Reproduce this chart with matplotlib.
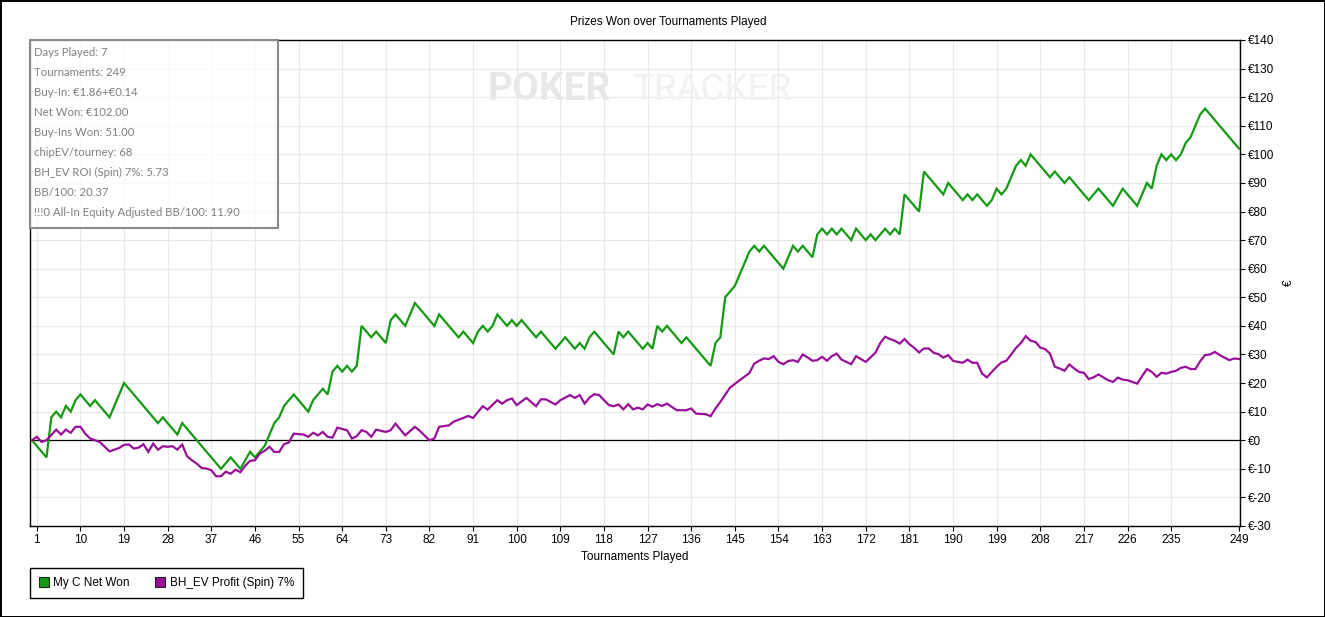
import matplotlib.pyplot as plt
from matplotlib.lines import Line2D
from matplotlib.patches import Rectangle
from matplotlib.ticker import FuncFormatter
import numpy as np

# turning points of "My C Net Won" (tournament, euro)
net_won_x = [0, 3, 4, 5, 6, 7, 8, 9, 10, 12, 13, 16, 19, 26, 27, 30, 31, 39, 41, 43, 45, 46, 48, 50,
             51, 52, 54, 57, 58, 60, 61, 62, 63, 64, 65, 66, 67, 68, 70, 71, 73, 74, 75, 77, 79, 83,
             84, 88, 89, 91, 92, 93, 94, 95, 96, 98, 99, 100, 101, 104, 105, 108, 110, 112, 113, 114,
             115, 116, 120, 121, 122, 123, 126, 127, 128, 129, 130, 131, 134, 135, 140, 141, 142, 143,
             145, 148, 149, 150, 151, 155, 157, 158, 159, 161, 162, 163, 164, 165, 166, 167, 169, 170,
             172, 173, 174, 176, 177, 178, 179, 180, 183, 184, 188, 189, 192, 193, 194, 195, 197, 198,
             199, 200, 201, 203, 204, 205, 206, 210, 211, 213, 214, 218, 220, 223, 225, 228, 230, 231,
             232, 233, 234, 235, 236, 237, 238, 239, 241, 242, 249]
net_won_y = [0, -6, 8, 10, 8, 12, 10, 14, 16, 12, 14, 8, 20, 6, 8, 2, 6, -10, -6, -10, -4, -6, -2, 6,
             8, 12, 16, 10, 14, 18, 16, 24, 26, 24, 26, 24, 26, 40, 36, 38, 34, 42, 44, 40, 48, 40,
             44, 36, 38, 34, 38, 40, 38, 40, 44, 40, 42, 40, 42, 36, 38, 32, 36, 32, 34, 32,
             36, 38, 30, 38, 36, 38, 32, 34, 32, 40, 38, 40, 34, 36, 26, 34, 36, 50,
             54, 66, 68, 66, 68, 60, 68, 66, 68, 64, 72, 74, 72, 74, 72, 74, 70, 74,
             70, 72, 70, 74, 72, 74, 72, 86, 80, 94, 86, 90, 84, 86, 84, 86, 82, 84,
             88, 86, 88, 96, 98, 96, 100, 92, 94, 90, 92, 84, 88, 82, 88, 82, 90, 88,
             96, 100, 98, 100, 98, 100, 104, 106, 114, 116, 102]

# "BH_EV Profit (Spin) 7%"
ev_x = [0, 1, 2, 3, 5, 6, 7, 8, 9, 10, 11, 12, 14, 16, 18, 19, 20, 21, 22, 23, 24, 25, 26, 27, 28,
        29, 30, 31, 32, 33, 34, 35, 36, 37, 38, 39, 40, 41, 42, 43, 44, 45, 46, 47, 48, 49, 50, 51,
        52, 53, 54, 56, 57, 58, 59, 60, 61, 62, 63, 65, 66, 67, 68, 69, 70, 71, 73, 74, 75, 77, 79,
        80, 82, 83, 84, 86, 87, 89, 90, 91, 93, 94, 96, 97, 98, 99, 100, 102, 104, 105, 106, 108,
        109, 111, 112, 113, 114, 115, 116, 117, 119, 120, 121, 122, 123, 124, 125, 126, 127, 128,
        129, 130, 131, 133, 135, 136, 137, 139, 140, 141, 142, 144, 146, 148, 149, 150, 151, 152,
        153, 154, 155, 156, 157, 158, 159, 160, 161, 162, 163, 164, 165, 166, 167, 168, 169, 170,
        171, 172, 173, 174, 175, 176, 177, 178, 179, 180, 181, 182, 183, 184, 185, 186, 187, 188,
        189, 190, 191, 192, 193, 194, 195, 196, 197, 198, 199, 200, 201, 202, 203, 204, 205, 206,
        207, 208, 209, 210, 211, 212, 213, 214, 215, 216, 217, 218, 219, 220, 221, 222, 223, 224,
        225, 226, 227, 228, 229, 230, 231, 232, 233, 234, 235, 236, 237, 238, 239, 240, 241, 242,
        243, 244, 245, 246, 247, 248, 249]
ev_y = [0, 1.2, -0.6, 0, 3.7, 2, 3.7, 2.6, 4.7, 4.7, 2.3, 0.6, -0.6, -3.9, -2.7, -1.6, -1.5, -2.9,
        -2.6, -1.4, -4.1, -1.2, -3.3, -2.1, -2.3, -2.1, -3.3, -1.5, -5.6, -7, -8.2, -9.7, -9.9, -10.5,
        -12.6, -12.6, -11, -11.7, -10.3, -11.2, -8.9, -7.2, -7, -4.7, -3.7, -2.3, -4.1, -4.1, -1.4,
        -0.8, 2.3, 2, 1.2, 2.6, 1.7, 2.9, 1.2, 0.9, 4.4, 3.5, 0.6, 1.4, 3.5, 2.9, 1.2, 3.7, 2.9, 3.5,
        5.8, 1.7, 4.7, 3.3, 0, 0.6, 4.7, 5.2, 6.5, 7.8, 8.5, 7.8, 11.9, 10.7, 14, 12.8, 14, 14.6, 12.3,
        14.8, 11.9, 14.3, 14.3, 12.5, 14, 15.8, 14.8, 15.8, 12.8, 14.9, 16.1, 15.8, 12.3, 11.9, 12.5,
        10.8, 12.6, 10.8, 11.4, 10.8, 12.5, 11.7, 12.6, 12, 12.8, 10.5, 10.5, 11.1, 9.3, 9.1, 8.4,
        11.1, 13.4, 18.4, 21, 23.5, 26.8, 27.8, 28.6, 28.4, 29.4, 27.4, 26.6, 27.7, 28, 27.4, 30, 29,
        27.8, 28, 29.2, 27.8, 29.4, 30.3, 28.2, 27.4, 26.6, 29.4, 28.4, 27.4, 29, 30.6, 34, 36.2, 35.4,
        34.8, 33.8, 35.4, 33.6, 32.3, 30.7, 32.1, 32.1, 30.6, 30.1, 28.9, 29.8, 27.8, 27.4, 27.1, 28.2,
        27.1, 27.1, 23.3, 22, 23.9, 25.7, 27.2, 27.8, 30, 32.3, 34, 36.4, 34.8, 34.4, 32.4, 31.9, 30.3,
        25.7, 25.1, 24.3, 26.5, 25.1, 23.9, 23.6, 21.4, 22, 23, 22, 21, 20.4, 21.9, 21.2, 21, 20.4,
        19.8, 22.4, 24.9, 23.9, 22.2, 23.6, 23.3, 23.9, 24.3, 25.3, 25.7, 24.9, 24.9, 27.7, 29.8, 30,
        30.9, 29.8, 28.9, 28, 28.6, 28.4]

x_ticks = list(range(1, 236, 9)) + [249]
y_ticks = list(range(-30, 141, 10))

stats = ["Days Played: 7", "Tournaments: 249", "Buy-In: €1.86+€0.14", "Net Won: €102.00",
         "Buy-Ins Won: 51.00", "chipEV/tourney: 68", "BH_EV ROI (Spin) 7%: 5.73", "BB/100: 20.37",
         "!!!0 All-In Equity Adjusted BB/100: 11.90"]

GREEN = '#139a13'
PURPLE = '#990f99'
W, H = 1325, 617
plt.rcParams['font.family'] = ['Liberation Sans', 'DejaVu Sans']

fig = plt.figure(figsize=(W / 100, H / 100), dpi=100, edgecolor='black', linewidth=2)
ax = fig.add_axes([30 / W, 1 - 526 / H, 1210 / W, 486 / H])

ax.plot(net_won_x, net_won_y, color=GREEN, lw=1.6, zorder=3, solid_joinstyle='miter')
ax.plot(ev_x, ev_y, color=PURPLE, lw=1.6, zorder=3, solid_joinstyle='miter')
ax.axhline(0, color='black', lw=0.9, zorder=2)

ax.set_xlim(-0.4, 249.2)
ax.set_ylim(-30, 140)
ax.set_xticks(x_ticks)
ax.set_yticks(y_ticks)
ax.yaxis.tick_right()
ax.yaxis.set_major_formatter(FuncFormatter(lambda v, p: f"€{int(v)}"))
ax.tick_params(axis='x', length=3.5, width=0.8, labelsize=8.5, pad=2)
ax.tick_params(axis='y', length=3.5, width=0.8, labelsize=8.5, pad=2)
ax.grid(True, color='#e8e8e8', lw=0.8, zorder=0)
for s in ax.spines.values():
    s.set_linewidth(1)
    s.set_color('black')

ax.set_xlabel('Tournaments Played', fontsize=8.5)
ax.xaxis.set_label_coords(0.5, -(557 - 526) / 486)
ax.xaxis.label.set_va('center')
ax.yaxis.set_label_position('right')
ax.set_ylabel('€', fontsize=8.5, rotation=90)
ax.yaxis.set_label_coords((1289 - 30) / 1210, 0.5)
ax.yaxis.label.set_va('center')

fig.text(668 / W, 1 - 22 / H, 'Prizes Won over Tournaments Played', ha='center', va='center', fontsize=8.5)

# watermark
fig.text(487 / W, 1 - 90 / H, 'POKER', fontsize=28, fontweight='bold', family='Roboto',
         color='#e8e8e8', ha='left', va='center', zorder=1)
fig.text(632 / W, 1 - 90 / H, 'TRACKER', fontsize=26.5, family='Roboto',
         color='#f1f1f1', ha='left', va='center', zorder=1)

# stats box
fig.patches.append(Rectangle((30 / W, 1 - 228 / H), 248 / W, 188 / H, transform=fig.transFigure,
                             facecolor=(1, 1, 1, 0.75), edgecolor='#8a8a8a', lw=1.5, zorder=5))
for i, line in enumerate(stats):
    fig.text(34 / W, 1 - (52 + 20 * i) / H, line, fontsize=8.2, family='Lato', color='#808080',
             ha='left', va='center', zorder=6)

handles = [Line2D([], [], marker='s', ls='none', markersize=7, markerfacecolor=c, markeredgecolor='#222222',
                  markeredgewidth=0.8) for c in (GREEN, PURPLE)]
leg = fig.legend(handles, ['My C Net Won', 'BH_EV Profit (Spin) 7%'], loc='lower left',
                 bbox_to_anchor=(30 / W, 1 - 598 / H), ncol=2, fontsize=8.5, frameon=True, fancybox=False,
                 edgecolor='black', framealpha=1, handlelength=0.8, handletextpad=0.4, columnspacing=2.2,
                 borderpad=0.75, borderaxespad=0)
leg.get_frame().set_linewidth(1)

fig.savefig('out.png', dpi=100)
